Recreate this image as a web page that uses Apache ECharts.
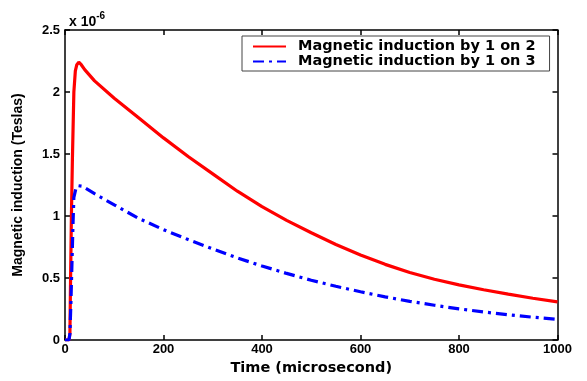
<!DOCTYPE html>
<html><head><meta charset="utf-8">
<script src="https://cdn.jsdelivr.net/npm/echarts@6/dist/echarts.min.js"></script>
<style>html,body{margin:0;padding:0;background:#fff}#c{width:587px;height:381px}</style>
</head><body><div id="c"></div>
<script>
const redT = [0, 8, 10, 11, 13, 15, 18, 21, 24, 28, 33, 40, 60, 100, 150, 200, 250, 300, 350, 400, 450, 500, 550, 600, 650, 700, 750, 800, 850, 900, 950, 1000];
const redV = [0, 0, 0.05, 0.4, 1.0, 1.45, 2.0, 2.17, 2.22, 2.24, 2.22, 2.18, 2.09, 1.95, 1.79, 1.63, 1.48, 1.34, 1.20, 1.075, 0.965, 0.865, 0.77, 0.685, 0.61, 0.545, 0.49, 0.445, 0.405, 0.37, 0.337, 0.308];
const blueT = [0, 8, 10, 12, 14, 16, 18, 22, 26, 30, 35, 60, 100, 125, 150, 200, 250, 300, 350, 400, 450, 500, 550, 600, 650, 700, 750, 800, 850, 900, 950, 1000];
const blueV = [0, 0, 0.05, 0.3, 0.6, 0.9, 1.15, 1.22, 1.245, 1.25, 1.24, 1.18, 1.09, 1.035, 0.98, 0.89, 0.81, 0.735, 0.662, 0.597, 0.537, 0.482, 0.433, 0.389, 0.348, 0.312, 0.28, 0.251, 0.226, 0.204, 0.184, 0.167];
const xTicks = [0, 200, 400, 600, 800, 1000];
const yTicks = [0, 0.5, 1, 1.5, 2, 2.5];
const seriesNames = ['Magnetic induction by 1 on 2', 'Magnetic induction by 1 on 3'];

const font = 'Liberation Sans, Arial, sans-serif';
const wide = 'DejaVu Sans, Liberation Sans, sans-serif';
const pair = (t, v) => t.map((x, i) => [x, v[i]]);
const chart = echarts.init(document.getElementById('c'));
const axLine = {show: true, onZero: false, lineStyle: {color: '#000', width: 1.5}};
const tick = {show: true, inside: true, length: 5, lineStyle: {color: '#000', width: 1.5}};
chart.setOption({
  animation: false,
  grid: {left: 65, right: 29.5, top: 30, bottom: 38},
  title: {
    text: '{a|x 10}{b|-6}', left: 64, top: 6,
    textStyle: {rich: {
      a: {fontFamily: font, fontWeight: 'bold', fontSize: 14, color: '#000', verticalAlign: 'bottom'},
      b: {fontFamily: font, fontWeight: 'bold', fontSize: 10, color: '#000', verticalAlign: 'top', padding: [0, 0, 8, 0]}
    }}
  },
  legend: {
    orient: 'vertical', left: 242, top: 36,
    backgroundColor: '#fff', borderColor: '#444', borderWidth: 1,
    padding: [3, 14, 2, 10], itemGap: 0, itemWidth: 33, itemHeight: 14,
    itemStyle: {opacity: 0},
    textStyle: {fontFamily: wide, fontWeight: 'bold', fontSize: 14.5, lineHeight: 15, color: '#000', padding: [0, 0, 0, 7]},
    data: seriesNames
  },
  xAxis: [{
    type: 'value', min: 0, max: 1000, interval: 200,
    name: 'Time (microsecond)', nameLocation: 'middle', nameGap: 21,
    nameTextStyle: {fontFamily: wide, fontWeight: 'bold', fontSize: 14.5, color: '#000'},
    axisLine: axLine, axisTick: tick, splitLine: {show: false},
    axisLabel: {fontFamily: font, fontWeight: 'bold', fontSize: 13, color: '#000', margin: 3,
      formatter: v => xTicks.includes(v) ? String(v) : ''}
  }, {
    type: 'value', min: 0, max: 1000, interval: 200, position: 'top',
    axisLine: axLine, axisTick: tick, axisLabel: {show: false}, splitLine: {show: false}
  }],
  yAxis: [{
    type: 'value', min: 0, max: 2.5, interval: 0.5,
    name: 'Magnetic induction (Teslas)', nameLocation: 'middle', nameGap: 40, nameRotate: 90,
    nameTextStyle: {fontFamily: font, fontWeight: 'bold', fontSize: 14, color: '#000'},
    axisLine: axLine, axisTick: tick, splitLine: {show: false},
    axisLabel: {fontFamily: font, fontWeight: 'bold', fontSize: 13, color: '#000', margin: 5,
      formatter: v => yTicks.includes(v) ? String(v) : ''}
  }, {
    type: 'value', min: 0, max: 2.5, interval: 0.5, position: 'right',
    axisLine: axLine, axisTick: tick, axisLabel: {show: false}, splitLine: {show: false}
  }],
  series: [{
    name: seriesNames[0], type: 'line', data: pair(redT, redV), symbol: 'none',
    lineStyle: {color: '#ff0000', width: 3.2}, itemStyle: {color: '#ff0000'}
  }, {
    name: seriesNames[1], type: 'line', data: pair(blueT, blueV), symbol: 'none',
    lineStyle: {color: '#0000ff', width: 3.2, type: [11, 5, 3, 5]}, itemStyle: {color: '#0000ff'}
  }]
});
</script></body></html>
